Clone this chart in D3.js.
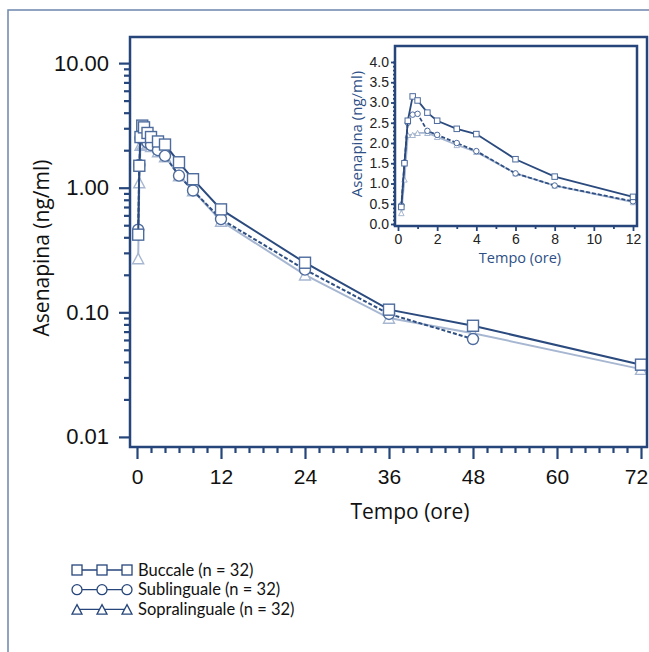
<!DOCTYPE html>
<html lang="it">
<head>
<meta charset="UTF-8">
<title>Asenapina - profilo farmacocinetico</title>
<script src="https://d3js.org/d3.v7.min.js"></script>
<style>
  html, body { margin: 0; padding: 0; background: #ffffff; }
  body { font-family: 'Open Sans', 'Lato', sans-serif; }
  svg { display: block; }
</style>
</head>
<body>
<div id="chart"></div>
<script>
// tempi di prelievo (ore)
const times = [0.17, 0.33, 0.5, 0.75, 1, 1.5, 2, 3, 4, 6, 8, 12, 24, 36, 48, 72];
// concentrazioni medie (ng/ml)
const buccale      = [0.42, 1.5, 2.55, 3.15, 3.05, 2.75, 2.55, 2.35, 2.22, 1.6, 1.17, 0.67, 0.25, 0.105, 0.078, 0.038];
const sublinguale  = [0.46, 1.52, 2.5, 2.7, 2.72, 2.3, 2.2, 2.0, 1.8, 1.25, 0.95, 0.56, 0.22, 0.097, 0.061, null];
const sopralinguale = [0.27, 1.1, 2.2, 2.2, 2.25, 2.25, 2.15, 1.95, 1.78, 1.25, 0.95, 0.54, 0.2, 0.09, 0.068, 0.035];

const seriesNames = ["Buccale (n = 32)", "Sublinguale (n = 32)", "Sopralinguale (n = 32)"];
const yTicksMain = [0.01, 0.1, 1, 10];
const xTicksMain = [0, 12, 24, 36, 48, 60, 72];
const yTicksInset = [0, 0.5, 1, 1.5, 2, 2.5, 3, 3.5, 4];
const xTicksInset = [0, 2, 4, 6, 8, 10, 12];

const navy = "#26467b";
const series = [
  { name: seriesNames[2], values: sopralinguale, shape: "triangle", line: "#a7b7d1", mark: "#a7b7d1", dash: null },
  { name: seriesNames[1], values: sublinguale, shape: "circle", line: "#2f4f83", mark: "#4d6b9c", dash: "4,2" },
  { name: seriesNames[0], values: buccale, shape: "square", line: "#2b4a7e", mark: "#4d6b9c", dash: null }
];

const W = 649, H = 652;
const svg = d3.select("#chart").append("svg").attr("width", W).attr("height", H);

// cornice esterna
svg.append("rect").attr("x", 8).attr("y", 10).attr("width", 700).attr("height", 700)
  .attr("fill", "none").attr("stroke", "#6c87ae").attr("stroke-width", 1.5);

function marker(g, shape, cx, cy, s, color, sw) {
  if (shape === "square") {
    g.append("rect").attr("x", cx - s / 2).attr("y", cy - s / 2).attr("width", s).attr("height", s)
      .attr("fill", "#fff").attr("stroke", color).attr("stroke-width", sw);
  } else if (shape === "circle") {
    g.append("circle").attr("cx", cx).attr("cy", cy).attr("r", s / 2)
      .attr("fill", "#fff").attr("stroke", color).attr("stroke-width", sw);
  } else {
    const h = s * 0.95;
    g.append("path").attr("d", `M${cx},${cy - h / 2}L${cx + s / 2},${cy + h / 2}L${cx - s / 2},${cy + h / 2}Z`)
      .attr("fill", "#fff").attr("stroke", color).attr("stroke-width", sw);
  }
}

function drawSeries(g, xs, ys, maxT, size, lw, msw) {
  series.forEach(s => {
    const pts = times.map((t, i) => ({ t, v: s.values[i] }))
      .filter(d => d.v != null && d.t <= maxT);
    const line = d3.line().x(d => xs(d.t)).y(d => ys(d.v));
    g.append("path").datum(pts).attr("d", line).attr("fill", "none")
      .attr("stroke", s.line).attr("stroke-width", lw)
      .attr("stroke-dasharray", s.dash);
    pts.forEach(d => marker(g, s.shape, xs(d.t), ys(d.v), size, s.mark, msw));
  });
}

// ---------- grafico principale ----------
const x = d3.scaleLinear().domain([0, 72]).range([137, 641]);
const y = d3.scaleLog().domain([0.0083, 16.2]).range([447, 37]);
const pLeft = x(-1), pRight = x(72.86), pTop = y.range()[1], pBottom = y.range()[0];

const main = svg.append("g");
drawSeries(main, x, y, 72, 11, 2, 1.4);

const minorY = [];
[0.01, 0.1, 1].forEach(d => { for (let k = 2; k <= 9; k++) minorY.push(d * k); });
const minorX = d3.range(0, 73, 2).filter(v => v % 12 !== 0);

main.append("g").attr("transform", `translate(${pLeft},0)`)
  .call(d3.axisLeft(y).tickValues(minorY).tickSize(6).tickFormat(""))
  .call(g => g.select(".domain").remove());
main.append("g").attr("transform", `translate(${pLeft},0)`)
  .call(d3.axisLeft(y).tickValues(yTicksMain).tickSize(11).tickPadding(10).tickFormat(d3.format(".2f")))
  .call(g => g.select(".domain").remove())
  .call(g => g.selectAll("text").attr("font-size", 22).attr("fill", "#111"));

main.append("g").attr("transform", `translate(0,${pBottom})`)
  .call(d3.axisBottom(x).tickValues(minorX).tickSize(6).tickFormat(""))
  .call(g => g.select(".domain").remove());
main.append("g").attr("transform", `translate(0,${pBottom})`)
  .call(d3.axisBottom(x).tickValues(xTicksMain).tickSize(12).tickPadding(10).tickFormat(d3.format("d")))
  .call(g => g.select(".domain").remove())
  .call(g => g.selectAll("text").attr("font-size", 21).attr("fill", "#111")
    .attr("dx", d => d === 72 ? -5 : 0));

main.selectAll(".tick line").attr("stroke", navy).attr("stroke-width", 2.2);

main.append("rect").attr("x", pLeft).attr("y", pTop).attr("width", pRight - pLeft).attr("height", pBottom - pTop)
  .attr("fill", "none").attr("stroke", navy).attr("stroke-width", 2.5);

svg.append("text").attr("x", 410).attr("y", 519).attr("text-anchor", "middle")
  .attr("font-size", 21).attr("fill", "#111").text("Tempo (ore)");
svg.append("text").attr("transform", `translate(49,248) rotate(-90)`)
  .attr("text-anchor", "middle").attr("font-size", 21).attr("fill", "#111").text("Asenapina (ng/ml)");

// ---------- riquadro (0-12 ore, scala lineare) ----------
const xi = d3.scaleLinear().domain([0, 12]).range([398, 633]);
const yi = d3.scaleLinear().domain([0, 4]).range([224, 62]);
const il = 395, ir = 637, it = 46, ib = 226;

const inset = svg.append("g");
inset.append("rect").attr("x", il).attr("y", it).attr("width", ir - il).attr("height", ib - it)
  .attr("fill", "#fff");
drawSeries(inset, xi, yi, 12, 5.5, 1.8, 1);

inset.append("g").attr("transform", `translate(${il},0)`)
  .call(d3.axisLeft(yi).tickValues(d3.range(0, 4.01, 0.1)).tickSize(2).tickFormat(""))
  .call(g => g.select(".domain").remove());
inset.append("g").attr("transform", `translate(${il},0)`)
  .call(d3.axisLeft(yi).tickValues(yTicksInset).tickSize(4).tickPadding(2).tickFormat(d3.format(".1f")))
  .call(g => g.select(".domain").remove())
  .call(g => g.selectAll("text").attr("font-size", 14).attr("fill", "#222"));
inset.append("g").attr("transform", `translate(0,${ib})`)
  .call(d3.axisBottom(xi).tickValues(d3.range(1, 12, 2)).tickSize(3).tickFormat(""))
  .call(g => g.select(".domain").remove());
inset.append("g").attr("transform", `translate(0,${ib})`)
  .call(d3.axisBottom(xi).tickValues(xTicksInset).tickSize(5).tickPadding(3).tickFormat(d3.format("d")))
  .call(g => g.select(".domain").remove())
  .call(g => g.selectAll("text").attr("font-size", 14).attr("fill", "#222"));
inset.selectAll(".tick line").attr("stroke", navy).attr("stroke-width", 1.8);

inset.append("rect").attr("x", il).attr("y", it).attr("width", ir - il).attr("height", ib - it)
  .attr("fill", "none").attr("stroke", navy).attr("stroke-width", 2.5);

svg.append("text").attr("x", 520).attr("y", 263).attr("text-anchor", "middle")
  .attr("font-size", 14.5).attr("fill", "#2d4f86").text("Tempo (ore)");
svg.append("text").attr("transform", `translate(362,134) rotate(-90)`)
  .attr("text-anchor", "middle").attr("font-size", 15).attr("fill", "#2d4f86").text("Asenapina (ng/ml)");

// ---------- legenda ----------
const legendRows = [series[2], series[1], series[0]];
const legend = svg.append("g");
legendRows.forEach((s, i) => {
  const cy = 570 + i * 19.7;
  const xs = [77, 102, 127];
  legend.append("line").attr("x1", xs[0]).attr("x2", xs[2]).attr("y1", cy).attr("y2", cy)
    .attr("stroke", navy).attr("stroke-width", 1.3);
  xs.forEach(cx => marker(legend, s.shape, cx, cy, 10, navy, 1.3));
  legend.append("text").attr("x", 138).attr("y", cy + 5.5).attr("font-size", 16.5)
    .attr("font-family", "Lato, sans-serif").attr("fill", "#111")
    .text(seriesNames[i]);
});
</script>
</body>
</html>
